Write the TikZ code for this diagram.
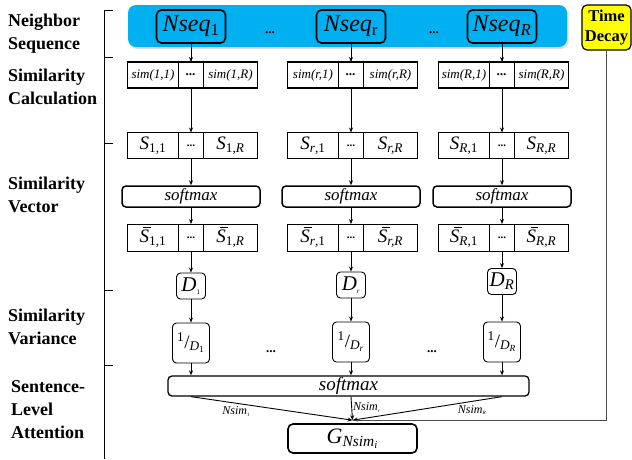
\documentclass[tikz,border=0pt]{standalone}
\usepackage{fontspec}
\setmainfont{Liberation Serif}
\usetikzlibrary{positioning,arrows.meta,shadows,calc}

\definecolor{bandblue}{RGB}{0,176,240}
\definecolor{decayyellow}{RGB}{255,255,0}

% italic symbol with a subscript
\newcommand{\symsub}[2]{\textit{#1}\textsubscript{#2}}
\newcommand{\barsub}[2]{\rlap{\kern0.2em\rule[0.78em]{0.42em}{0.045em}}\textit{#1}\textsubscript{#2}}

\begin{document}
\begin{tikzpicture}[
    x=1pt, y=-1pt,
    node distance=0pt,
    cell/.style={draw, outer sep=0pt, inner sep=0pt, minimum height=26pt},
    simcell/.style={cell, line width=1.5pt, font=\fontsize{13}{13}\selectfont\itshape},
    scell/.style={cell, line width=0.8pt, font=\fontsize{19}{19}\selectfont},
    dotcell/.style={font=\bfseries\fontsize{11}{11}\selectfont},
    seqbox/.style={draw, line width=1.6pt, rounded corners=5pt, fill=bandblue, minimum width=69pt, minimum height=33pt, inner sep=0pt, font=\fontsize{24}{24}\selectfont},
    smbox/.style={draw, line width=1.5pt, rounded corners=4pt, minimum width=138pt, minimum height=21pt, inner sep=0pt, font=\fontsize{17}{17}\selectfont\itshape},
    dbox/.style={draw, line width=0.9pt, rounded corners=4pt, minimum width=29pt, minimum height=26pt, inner sep=1pt, font=\fontsize{21}{21}\selectfont},
    invbox/.style={dbox, minimum width=37pt, minimum height=40pt, font=\fontsize{19}{19}\selectfont},
    layer/.style={font=\bfseries\fontsize{18}{23}\selectfont, align=left, anchor=north west, inner sep=0pt},
    ell/.style={font=\bfseries\fontsize{13}{13}\selectfont},
    arr/.style={-{Stealth[length=5pt, width=4pt]}, line width=0.9pt},
    weight/.style={font=\fontsize{12}{12}\selectfont},
]
\useasboundingbox (0,0) rectangle (632,459);

% Layer names and bracket
\node[layer] (lseq) at (8,14) {Neighbor\\Sequence};
\node[layer] (lcalc) at (8,69) {Similarity\\Calculation};
\node[layer] (lvec) at (8,177) {Similarity\\Vector};
\node[layer] (lvar) at (8,309) {Similarity\\Variance};
\node[layer] (latt) at (11,380) {Sentence-\\Level\\Attention};
\draw[line width=1pt] (113,10) -- (104,10) -- (104,459);
\draw[line width=1pt] (104,57) -- (113,57) (104,143) -- (113,143)
    (104,290) -- (113,290) (104,365) -- (113,365);

% Neighbor sequences
\node[draw=none, fill=bandblue, rounded corners=8pt, minimum width=439pt, minimum height=42pt,
    drop shadow={opacity=0.25, shadow xshift=1.5pt, shadow yshift=-2pt}] (band) at (347.5,26) {};
\node[seqbox] (nseq1) at (191,26.5) {\symsub{Nseq}{1}};
\node[seqbox] (nseqr) at (351,26.5) {\symsub{Nseq}{r}};
\node[seqbox] (nseqR) at (502,26.5) {\symsub{Nseq}{\textit{R}}};
\node[ell] (bdots1) at (270,33) {...};
\node[ell] (bdots2) at (434,33) {...};

% Time decay
\node[draw, line width=1.2pt, fill=decayyellow, rounded corners=5pt, minimum width=49pt, minimum height=45pt,
    inner sep=0pt, align=center, font=\bfseries\fontsize{16.5}{20}\selectfont] (decay) at (606.5,27.5) {Time\\Decay};

% Similarity calculation
\node[simcell, minimum width=25pt] (simm1) at (191,75) {\textbf{...}};
\node[simcell, minimum width=51pt, left=of simm1] (siml1) {sim(1,1)};
\node[simcell, minimum width=54pt, right=of simm1] (simr1) {sim(1,R)};
\node[simcell, minimum width=25pt] (simmr) at (351,75) {\textbf{...}};
\node[simcell, minimum width=51pt, left=of simmr] (simlr) {sim(r,1)};
\node[simcell, minimum width=54pt, right=of simmr] (simrr) {sim(r,R)};
\node[simcell, minimum width=25pt] (simmR) at (502,75) {\textbf{...}};
\node[simcell, minimum width=51pt, left=of simmR] (simlR) {sim(R,1)};
\node[simcell, minimum width=54pt, right=of simmR] (simrR) {sim(R,R)};

\node[scell, minimum width=25pt, dotcell] (sm1) at (191,145.5) {...};
\node[scell, minimum width=51pt, left=of sm1] (sl1) {\symsub{S}{1,1}};
\node[scell, minimum width=54pt, right=of sm1] (sr1) {\symsub{S}{1,\textit{R}}};
\node[scell, minimum width=25pt, dotcell] (smr) at (351,145.5) {...};
\node[scell, minimum width=51pt, left=of smr] (slr) {\symsub{S}{\textit{r},1}};
\node[scell, minimum width=54pt, right=of smr] (srr) {\symsub{S}{\textit{r,R}}};
\node[scell, minimum width=25pt, dotcell] (smR) at (502,145.5) {...};
\node[scell, minimum width=51pt, left=of smR] (slR) {\symsub{S}{\textit{R},1}};
\node[scell, minimum width=54pt, right=of smR] (srR) {\symsub{S}{\textit{R,R}}};

% Similarity vector
\node[smbox] (soft1) at (191,196.5) {softmax};
\node[smbox] (softr) at (351,196.5) {softmax};
\node[smbox] (softR) at (502,196.5) {softmax};

\node[scell, minimum width=25pt, minimum height=27pt, dotcell] (bm1) at (191,237.5) {...};
\node[scell, minimum width=51pt, minimum height=27pt, left=of bm1] (bl1) {\barsub{S}{1,1}};
\node[scell, minimum width=54pt, minimum height=27pt, right=of bm1] (br1) {\barsub{S}{1,\textit{R}}};
\node[scell, minimum width=25pt, minimum height=27pt, dotcell] (bmr) at (351,237.5) {...};
\node[scell, minimum width=51pt, minimum height=27pt, left=of bmr] (blr) {\barsub{S}{\textit{r},1}};
\node[scell, minimum width=54pt, minimum height=27pt, right=of bmr] (brr) {\barsub{S}{\textit{r,R}}};
\node[scell, minimum width=25pt, minimum height=27pt, dotcell] (bmR) at (502,237.5) {...};
\node[scell, minimum width=51pt, minimum height=27pt, left=of bmR] (blR) {\barsub{S}{\textit{R},1}};
\node[scell, minimum width=54pt, minimum height=27pt, right=of bmR] (brR) {\barsub{S}{\textit{R,R}}};

% Similarity variance
\node[dbox] (d1) at (191,286) {\symsub{D}{\scriptsize 1}};
\node[dbox] (dr) at (351,285) {\symsub{D}{\scriptsize\textit{r}}};
\node[dbox] (dR) at (502,281.5) {\symsub{D}{\textit{R}}};
\node[invbox] (inv1) at (191,343) {\textsuperscript{1}/\textsubscript{\textit{D}\textsubscript{1}}};
\node[invbox] (invr) at (351,342) {\textsuperscript{1}/\textsubscript{\textit{D}\textsubscript{\textit{r}}}};
\node[invbox] (invR) at (502,342) {\textsuperscript{1}/\textsubscript{\textit{D}\textsubscript{\textit{R}}}};
\node[ell] (vdots1) at (271,352) {...};
\node[ell] (vdots2) at (432,352) {...};

% Sentence-level attention
\node[draw, line width=1.3pt, rounded corners=4pt, minimum width=361pt, minimum height=20pt, inner sep=0pt,
    font=\fontsize{19}{19}\selectfont\itshape] (bigsoft) at (348.5,386) {softmax};
\node[draw, line width=1.6pt, rounded corners=5pt, minimum width=129pt, minimum height=29pt, inner sep=0pt,
    font=\fontsize{22}{22}\selectfont] (g) at (352.5,438.5) {\symsub{G}{\textit{Nsim}\textsubscript{\textit{i}}}};
\coordinate (join) at ($(g.north)+(0,-3)$);

% Column arrows
\draw[arr] (nseq1) -- (simm1);
\draw[arr] (nseqr) -- (simmr);
\draw[arr] (nseqR) -- (simmR);
\draw[arr] (simm1) -- (sm1);
\draw[arr] (simmr) -- (smr);
\draw[arr] (simmR) -- (smR);
\draw[arr] (sm1) -- (soft1);
\draw[arr] (smr) -- (softr);
\draw[arr] (smR) -- (softR);
\draw[arr] (soft1) -- (bm1);
\draw[arr] (softr) -- (bmr);
\draw[arr] (softR) -- (bmR);
\draw[arr] (bm1) -- (d1);
\draw[arr] (bmr) -- (dr);
\draw[arr] (bmR) -- (dR);
\draw[arr] (d1) -- (inv1);
\draw[arr] (dr) -- (invr);
\draw[arr] (dR) -- (invR);
\draw[arr] (inv1) -- (inv1 |- bigsoft.north);
\draw[arr] (invr) -- (invr |- bigsoft.north);
\draw[arr] (invR) -- (invR |- bigsoft.north);

% Attention weights
\draw[arr] (inv1 |- bigsoft.south) -- node[weight, pos=0.28, below] {\symsub{Nsim}{\tiny 1}} (join);
\draw[arr] (invr |- bigsoft.south) -- node[weight, pos=0.45, right, inner sep=1pt] {\symsub{Nsim}{\tiny\textit{r}}} (join);
\draw[arr] (invR |- bigsoft.south) -- node[weight, pos=0.2, below] {\symsub{Nsim}{\tiny\textit{R}}} (join);
\draw[gray!60!black, line width=0.9pt] (decay) |- (join);

\end{tikzpicture}
\end{document}
